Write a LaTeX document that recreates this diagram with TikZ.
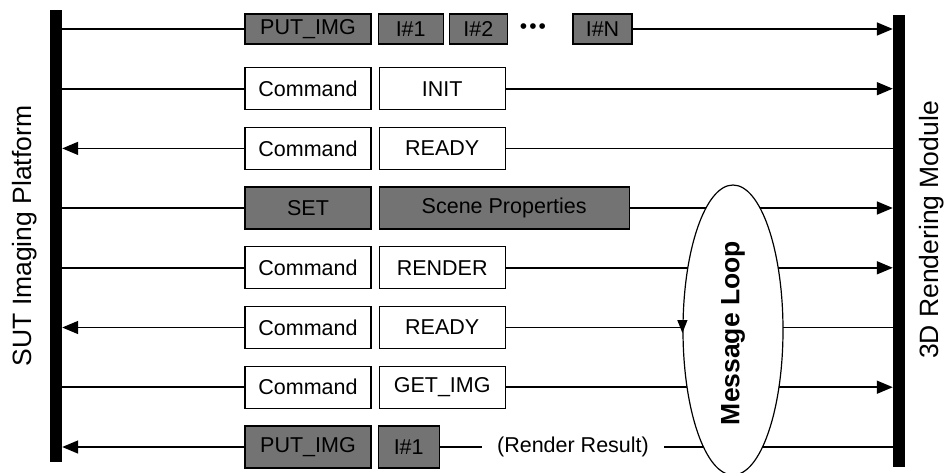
\documentclass[tikz,border=0pt]{standalone}
\usepackage{fontspec}
\setmainfont{Liberation Sans}
\usepackage{tikz}
\usetikzlibrary{arrows.meta, positioning, shapes.geometric, calc}

\tikzset{
  msgbox/.style={draw, line width=1.2pt, minimum width=126pt, minimum height=42pt,
    inner sep=0pt, font=\fontsize{21.5}{24}\selectfont},
  darkbox/.style={msgbox, fill=black!55},
  wire/.style={line width=1.6pt},
  sendarrow/.style={wire, -{Triangle[length=16pt, width=13pt]}},
  sidebar/.style={fill=black, minimum width=12pt, minimum height=452pt, inner sep=0pt},
  sidelabel/.style={rotate=90, font=\fontsize{26.5}{30}\selectfont},
}

\begin{document}
\begin{tikzpicture}[x=1pt, y=-1pt]
  \useasboundingbox (0,0) rectangle (946,472);

  % the two modules
  \node[sidebar] (lbar) at (56,236) {};
  \node[sidebar] (rbar) at (899,241) {};
  \node[sidelabel] (sut) at (25,236) {SUT Imaging Platform};
  \node[sidelabel] (rdm) at (932,230) {3D Rendering Module};

  % row 1: images sent
  \node[darkbox, minimum height=30pt] (put1) at (308,29) {PUT\_IMG};
  \node[darkbox, minimum height=30pt, minimum width=65pt, right=6pt of put1] (imgA) {I\#1};
  \node[darkbox, minimum height=30pt, minimum width=58pt, right=5pt of imgA] (imgB) {I\#2};
  \node[font=\fontsize{21}{24}\selectfont] (dots) at (533,29) {\textbullet\kern2pt\textbullet\kern2pt\textbullet};
  \node[darkbox, minimum height=30pt, minimum width=59pt] (imgN) at (602.5,29) {I\#N};
  \draw[wire] (lbar.east |- put1.west) -- (put1.west);
  \draw[sendarrow] (imgN.east) -- (rbar.west |- imgN.east);

  % row 2: INIT
  \node[msgbox] (cmd2) at (308,88.7) {Command};
  \node[msgbox, right=7pt of cmd2] (init) {INIT};
  \draw[wire] (lbar.east |- cmd2.west) -- (cmd2.west);
  \draw[sendarrow] (init.east) -- (rbar.west |- init.east);

  % row 3: READY back
  \node[msgbox] (cmd3) at (308,148.4) {Command};
  \node[msgbox, right=7pt of cmd3] (ready3) {READY};
  \draw[sendarrow] (cmd3.west) -- (lbar.east |- cmd3.west);
  \draw[wire] (ready3.east) -- (rbar.west |- ready3.east);

  % row 4: scene properties
  \node[darkbox] (set) at (308,208) {SET};
  \node[darkbox, minimum width=250pt, right=7pt of set] (scene) {Scene Properties};
  \draw[wire] (lbar.east |- set.west) -- (set.west);
  \draw[sendarrow] (scene.east) -- (rbar.west |- scene.east);

  % row 5: RENDER
  \node[msgbox] (cmd5) at (308,267.8) {Command};
  \node[msgbox, right=7pt of cmd5] (render) {RENDER};
  \draw[wire] (lbar.east |- cmd5.west) -- (cmd5.west);
  \draw[sendarrow] (render.east) -- (rbar.west |- render.east);

  % row 6: READY back
  \node[msgbox] (cmd6) at (308,327.5) {Command};
  \node[msgbox, right=7pt of cmd6] (ready6) {READY};
  \draw[sendarrow] (cmd6.west) -- (lbar.east |- cmd6.west);
  \draw[wire] (ready6.east) -- (rbar.west |- ready6.east);

  % row 7: GET_IMG
  \node[msgbox] (cmd7) at (308,387.2) {Command};
  \node[msgbox, right=7pt of cmd7] (getimg) {GET\_IMG};
  \draw[wire] (lbar.east |- cmd7.west) -- (cmd7.west);
  \draw[sendarrow] (getimg.east) -- (rbar.west |- getimg.east);

  % row 8: result image back
  \node[darkbox] (put8) at (308,447) {PUT\_IMG};
  \node[darkbox, minimum width=61pt, right=6pt of put8] (img8) {I\#1};
  \node[font=\fontsize{21.5}{24}\selectfont, inner xsep=15pt] (result) at (573,447) {(Render Result)};
  \draw[sendarrow] (put8.west) -- (lbar.east |- put8.west);
  \draw[wire] (img8.east) -- (result.west);
  \draw[wire] (result.east) -- (rbar.west |- result.east);

  % message loop
  \node[ellipse, draw, line width=1.2pt, fill=white, minimum width=100pt,
    minimum height=290pt, inner sep=0pt] (loop) at (733,330) {};
  \node[rotate=90, font=\bfseries\fontsize{26.5}{30}\selectfont] (looptxt) at (733,333) {Message Loop};
  \draw[-{Triangle[length=13pt, width=10pt]}, line width=1.2pt]
    ($(loop.west)+(0,-6)$) -- ($(loop.west)+(0,3)$);
\end{tikzpicture}
\end{document}
